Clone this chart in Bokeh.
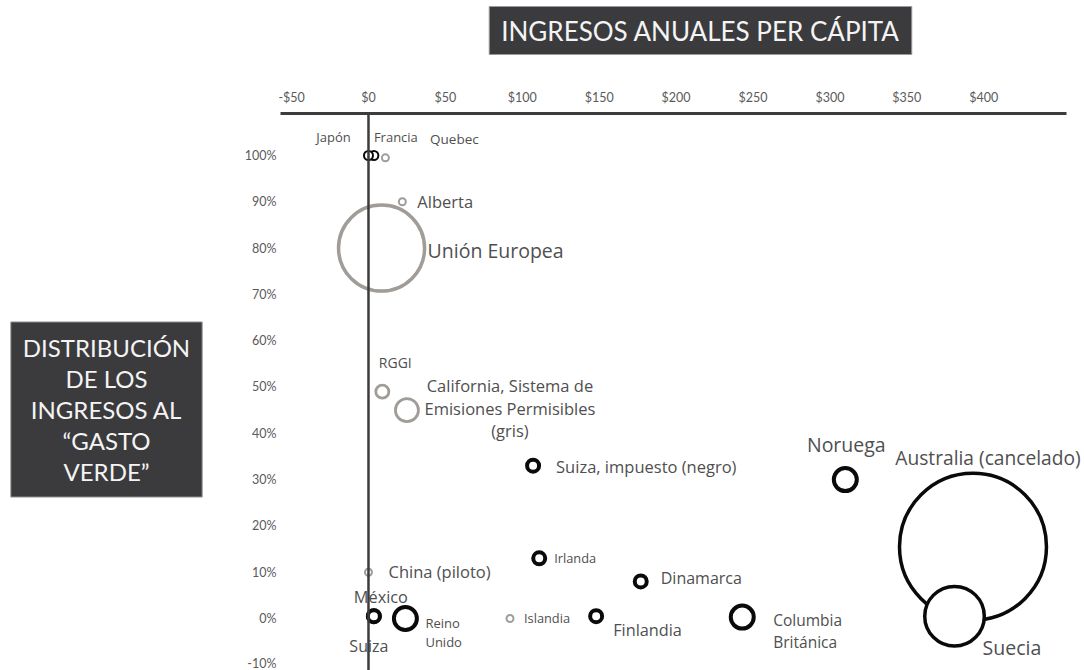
import numpy as np
import pandas as pd
from bokeh.plotting import figure
from bokeh.models import ColumnDataSource, Span, Label, FixedTicker
from bokeh.embed import file_html
from bokeh.resources import INLINE
from bokeh.core.properties import value

# ---------------- data ----------------
paises = ["Japón", "Francia", "Quebec", "Alberta", "Unión Europea", "RGGI",
          "California, Sistema de\nEmisiones Permisibles\n(gris)",
          "Suiza, impuesto (negro)", "Irlanda", "Dinamarca", "Islandia", "Finlandia",
          "Columbia\nBritánica", "Noruega", "Australia (cancelado)", "Suecia",
          "China (piloto)", "México", "Suiza", "Reino\nUnido"]
ingreso_per_capita = [0, 3.5, 11, 22, 8.5, 9, 25, 107, 111, 177, 92, 148,
                      243, 310, 393, 381, 0, 3.5, 3.5, 24]
gasto_verde = [100, 100, 99.5, 90, 80, 49, 45, 33, 13, 8, 0, 0.5,
               0.3, 30, 15.5, 0.5, 10, 0.5, 0.5, 0]
recaudacion_relativa = [0.81, 0.81, 0.49, 0.49, 74.0, 1.69, 5.29, 1.44, 1.44, 1.44, 0.49, 1.44,
                        5.29, 5.29, 216.0, 35.5, 0.49, 1.44, 1.44, 5.29]
tipo = ["negro", "negro", "gris", "gris", "gris", "gris", "gris", "negro", "negro", "negro",
        "gris", "negro", "negro", "negro", "negro", "negro", "gris", "negro", "negro", "negro"]

x_ticks = [-50, 0, 50, 100, 150, 200, 250, 300, 350, 400]
x_tick_labels = ["-$50", "$0", "$50", "$100", "$150", "$200", "$250", "$300", "$350", "$400"]
y_ticks = [-10, 0, 10, 20, 30, 40, 50, 60, 70, 80, 90, 100]
y_tick_labels = ["-10%", "0%", "10%", "20%", "30%", "40%", "50%", "60%", "70%", "80%", "90%", "100%"]

titulo = "INGRESOS ANUALES PER CÁPITA"
titulo_y = "DISTRIBUCIÓN\nDE LOS\nINGRESOS AL\n“GASTO\nVERDE”"

# ---------------- label layout (px offsets, align, font size, line height) ----------------
etiquetas = {
    "Japón": (-35, -18, "center", 13, 1.2),
    "Francia": (22, -18, "center", 13, 1.2),
    "Quebec": (69, -19, "center", 13.5, 1.2),
    "Alberta": (15, 0, "left", 16.5, 1.2),
    "Unión Europea": (46, 2, "left", 19.5, 1.2),
    "RGGI": (13, -29, "center", 14, 1.2),
    "California, Sistema de\nEmisiones Permisibles\n(gris)": (103, -2, "center", 16.5, 0.98),
    "Suiza, impuesto (negro)": (23, 1, "left", 16.5, 1.2),
    "Irlanda": (15, 0, "left", 12.8, 1.2),
    "Dinamarca": (20, -3, "left", 16, 1.2),
    "Islandia": (14, -1, "left", 12.8, 1.2),
    "Finlandia": (17, 14, "left", 16.3, 1.2),
    "Columbia\nBritánica": (31, 14, "left", 15.5, 1.02),
    "Noruega": (1, -35, "center", 19.5, 1.2),
    "Australia (cancelado)": (15, -89, "center", 19.2, 1.2),
    "Suecia": (28, 31, "left", 19.5, 1.2),
    "China (piloto)": (20, -1, "left", 16.5, 1.2),
    "México": (7, -19, "center", 16.3, 1.2),
    "Suiza": (-5, 30, "center", 16, 1.2),
    "Reino\nUnido": (20, 14, "left", 13, 1.05),
}

df = pd.DataFrame(dict(pais=paises, x=ingreso_per_capita, y=gasto_verde,
                       rec=recaudacion_relativa, tipo=tipo))
df["size"] = 10 * np.sqrt(df["rec"])
df["color"] = df["tipo"].map({"negro": "#0a0a0a", "gris": "#a09c97"})
df["lw"] = np.where(df["size"] < 10, 2.0,
                    np.where(df["size"] < 30, np.where(df["tipo"] == "negro", 4.0, 2.8), 3.5))
df["dx"] = [etiquetas[n][0] for n in df["pais"]]
df["dy"] = [etiquetas[n][1] for n in df["pais"]]
df["align"] = [etiquetas[n][2] for n in df["pais"]]
df["fs"] = [f"{etiquetas[n][3]}px" for n in df["pais"]]
df["lh"] = [etiquetas[n][4] for n in df["pais"]]

# ---------------- figure ----------------
p = figure(width=1084, height=670, x_range=(-57.2, 465.5), y_range=(-11.23, 109.07),
           x_axis_location="above", min_border_left=280, min_border_top=113,
           min_border_right=0, min_border_bottom=0,
           output_backend="svg", toolbar_location=None)
p.outline_line_color = None
p.grid.visible = False
p.background_fill_color = "white"
p.border_fill_color = "white"

xa = p.xaxis[0]
xa.ticker = FixedTicker(ticks=x_ticks)
xa.major_label_overrides = {t: l for t, l in zip(x_ticks, x_tick_labels)}
xa.axis_line_width = 3
xa.axis_line_color = "#3c3c3c"
xa.major_tick_line_color = None
xa.major_tick_out = 0
xa.major_tick_in = 0
xa.minor_tick_line_color = None
xa.minor_tick_out = 0
xa.major_label_standoff = 9
xa.major_label_text_font = "Lato"
xa.major_label_text_font_size = "12.5px"
xa.major_label_text_color = "#5a5a5a"
xa.bounds = (-57.2, 453.8)

ya = p.yaxis[0]
ya.ticker = FixedTicker(ticks=y_ticks)
ya.major_label_overrides = {t: l for t, l in zip(y_ticks, y_tick_labels)}
ya.axis_line_color = None
ya.major_tick_line_color = None
ya.major_tick_out = 0
ya.major_tick_in = 0
ya.minor_tick_line_color = None
ya.minor_tick_out = 0
ya.major_label_standoff = 4
ya.major_label_text_font = "Lato"
ya.major_label_text_font_size = "12.5px"
ya.major_label_text_color = "#5a5a5a"

# bubbles (largest first so smaller ones sit on top)
order = df.sort_values("size", ascending=False)
p.scatter("x", "y", size="size", source=ColumnDataSource(order),
          fill_color="white", line_color="color", line_width="lw")

# labels grouped by alignment / line height
for (al, lh), sub in df.groupby(["align", "lh"]):
    p.text("x", "y", text="pais", source=ColumnDataSource(sub),
           x_offset="dx", y_offset="dy", text_align=al, text_baseline="middle",
           text_font=value("Open Sans"), text_font_size="fs", text_color="#4f4f4f",
           text_line_height=lh)

# vertical line at $0
p.add_layout(Span(location=0, dimension="height", line_color="#3c3c3c", line_width=2.5))

# boxed titles (placed in side panels so they are not clipped to the frame)
p.add_layout(Label(x=700, y=30, x_units="canvas", y_units="canvas", text=titulo,
                   text_align="center", text_baseline="middle",
                   text_font="Lato", text_font_size="26px", text_color="#f4f4f4",
                   background_fill_color="#3b3b3d", border_line_color="#9a9a9a",
                   border_line_width=1,
                   padding=dict(left=12, right=12, top=8, bottom=8)), "above")
p.add_layout(Label(x=106, y=409, x_units="canvas", y_units="canvas", text=titulo_y,
                   text_align="center", text_baseline="middle",
                   text_font="Lato", text_font_size="24px", text_color="#f4f4f4",
                   text_line_height=1.07,
                   background_fill_color="#3b3b3d", border_line_color="#9a9a9a",
                   border_line_width=1,
                   padding=dict(left=12, right=12, top=11, bottom=11)), "left")

open("out.html", "w").write(file_html(p, INLINE))
